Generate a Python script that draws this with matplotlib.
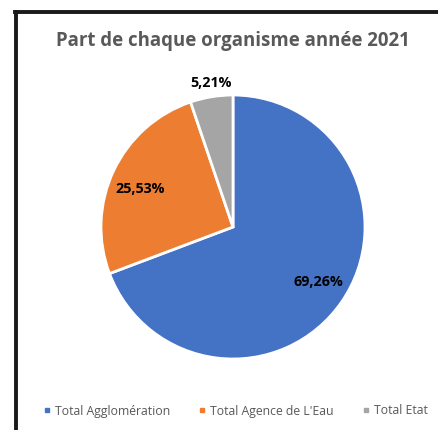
import matplotlib
matplotlib.use("Agg")
import matplotlib.pyplot as plt
from matplotlib.lines import Line2D

plt.rcParams['font.family'] = ['Open Sans', 'DejaVu Sans']

categories = ["Total Agglomération", "Total Agence de L'Eau", "Total Etat"]
values = [69.26, 25.53, 5.21]
labels = ["69,26%", "25,53%", "5,21%"]
colors = ["#4472C4", "#ED7D31", "#A5A5A5"]
title = "Part de chaque organisme année 2021"

W, H = 439, 430
fig = plt.figure(figsize=(W/100, H/100), dpi=100)

# border lines (top and left)
fig.add_artist(Line2D([15/W, 1], [1-12/H, 1-12/H], color="#1a1a1a", lw=2.8, transform=fig.transFigure))
fig.add_artist(Line2D([16/W, 16/W], [0, 1-12/H], color="#1a1a1a", lw=2.8, transform=fig.transFigure))

cx, cy, r = 233, 227, 132
ax = fig.add_axes([(cx-r)/W, 1-(cy+r)/H, 2*r/W, 2*r/H])
wedges, _ = ax.pie(values, colors=colors, startangle=90, counterclock=False,
                   wedgeprops=dict(edgecolor="white", linewidth=2), radius=1)
ax.set_xlim(-1, 1); ax.set_ylim(-1, 1)
ax.set_aspect('equal')
ax.axis('off')

label_pos = [(318, 282), (140, 189), (211, 83)]
for lab, (x, y) in zip(labels, label_pos):
    fig.text(x/W, 1-y/H, lab, ha='center', va='center', fontsize=10.3, fontweight='bold', color='black')

fig.text(233/W, 1-41/H, title, ha='center', va='center', fontsize=13.4, fontweight='bold', color='#595959')

# legend
handles = [Line2D([], [], marker='s', linestyle='none', markersize=3.5, color=c) for c in colors]
fig.legend(handles, categories, loc='center', bbox_to_anchor=(236/W, 1-411/H), ncol=3, frameon=False,
           fontsize=8.8, labelcolor='#595959', handlelength=0.5, handletextpad=0.4, columnspacing=2.4)

fig.savefig("out.png", dpi=100)
